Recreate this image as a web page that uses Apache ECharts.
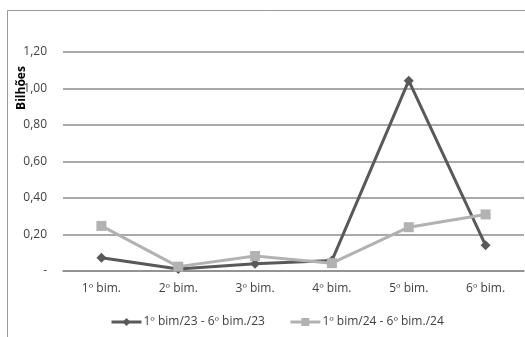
<!DOCTYPE html>
<html><head><meta charset="utf-8">
<script src="https://cdn.jsdelivr.net/npm/echarts@6/dist/echarts.min.js"></script>
<style>html,body{margin:0;padding:0;background:#fff}#c{width:525px;height:337px}</style>
</head><body><div id="c"></div>
<script>
const categories = ['1º bim.', '2º bim.', '3º bim.', '4º bim.', '5º bim.', '6º bim.'];
const series2023 = [0.073, 0.011, 0.04, 0.057, 1.043, 0.141];
const series2024 = [0.247, 0.024, 0.082, 0.043, 0.24, 0.31];
const seriesNames = ['1º bim/23 - 6º bim./23', '1º bim/24 - 6º bim./24'];
const yTicks = [0, 0.2, 0.4, 0.6, 0.8, 1.0, 1.2];
const yTitle = 'Bilhões';

const font = 'Open Sans, Liberation Sans, sans-serif';
const chart = echarts.init(document.getElementById('c'));
chart.setOption({
  animation: false,
  backgroundColor: '#fff',
  graphic: [
    { type: 'polyline', shape: { points: [[7.5, 337], [7.5, 10.5], [525, 10.5]] }, style: { stroke: '#9a9a9a', lineWidth: 1, fill: null } },
    { type: 'text', x: 22, y: 88, rotation: Math.PI / 2,
      style: { text: yTitle, fontFamily: font, fontSize: 12, fontWeight: 'bold', fill: '#000', align: 'center', verticalAlign: 'middle' } }
  ],
  grid: { left: 63, right: 1, top: 52, bottom: 66 },
  legend: {
    bottom: 4, left: 105, itemGap: 24, itemWidth: 30, itemHeight: 10,
    lineStyle: { width: 3 },
    textStyle: { fontFamily: font, fontSize: 12, color: '#404040', padding: [0, 0, 0, -3] },
    data: seriesNames
  },
  xAxis: {
    type: 'category', data: categories,
    axisLine: { lineStyle: { color: '#8c8c8c', width: 1.5 } },
    axisTick: { show: false },
    axisLabel: { fontFamily: font, fontSize: 12, color: '#404040', margin: 12 }
  },
  yAxis: {
    type: 'value', min: 0, max: 1.2, interval: 0.2,
    axisLine: { show: false }, axisTick: { show: false },
    splitLine: { lineStyle: { color: '#8c8c8c', width: 1.5 } },
    axisLabel: {
      fontFamily: font, fontSize: 12, color: '#404040', margin: 16,
      formatter: v => {
        const t = yTicks.find(x => Math.abs(x - v) < 1e-9);
        if (t === undefined) return '';
        return t === 0 ? '-' : t.toFixed(2).replace('.', ',');
      }
    }
  },
  series: [
    { name: seriesNames[0], type: 'line', data: series2023, symbol: 'diamond', symbolSize: 10,
      lineStyle: { color: '#595959', width: 3 }, itemStyle: { color: '#595959' } },
    { name: seriesNames[1], type: 'line', data: series2024, symbol: 'rect', symbolSize: 10,
      lineStyle: { color: '#b2b2b2', width: 3 }, itemStyle: { color: '#b2b2b2' } }
  ]
});
</script></body></html>
